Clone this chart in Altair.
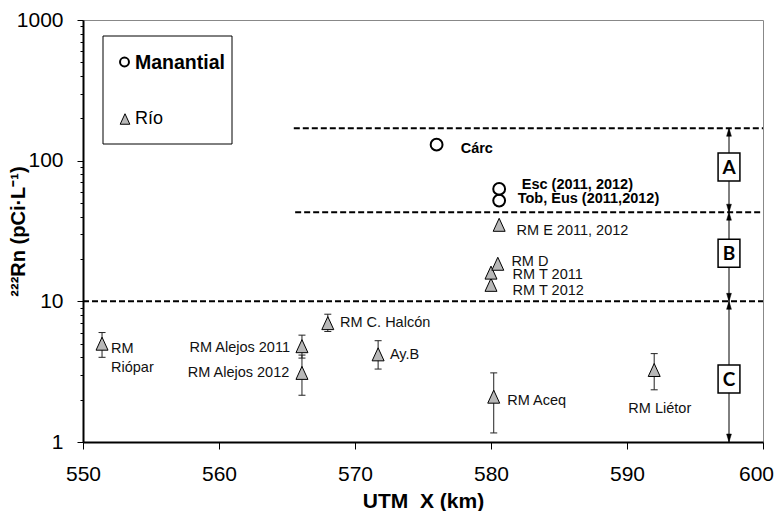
import altair as alt
import pandas as pd

# ---------------- data ----------------
# River (Río) samples: UTM X (km) and 222Rn (pCi/L)
rio_x = [551.4, 566.1, 566.1, 568.0, 571.7, 580.2, 592.0, 580.0, 580.0, 580.5, 580.6]
rio_y = [5.0, 4.8, 3.1, 7.0, 4.2, 2.1, 3.25, 13.1, 16.0, 18.5, 35.0]

# error bars (only the lower-concentration river points have them)
err_x = [551.4, 566.1, 566.1, 568.0, 571.7, 580.2, 592.0]
err_lo = [4.0, 3.95, 2.15, 6.1, 3.3, 1.16, 2.35]
err_hi = [6.0, 5.75, 4.15, 8.1, 5.25, 3.1, 4.25]

# Spring (Manantial) samples
man_x = [576.0, 580.6, 580.6]
man_y = [130.0, 63.0, 52.0]

# point labels (anchor in data units)
lab_reg_left = ["RM", "Riópar", "RM C. Halcón", "Ay.B", "RM Aceq", "RM Liétor",
                "RM T 2012", "RM T 2011", "RM D", "RM E 2011, 2012"]
lab_reg_left_x = [552.06, 552.06, 568.9, 572.57, 581.2, 590.1, 581.59, 581.59, 581.5, 581.88]
lab_reg_left_y = [4.56, 3.35, 7.06, 4.16, 1.97, 1.71, 11.9, 15.4, 18.9, 31.8]

lab_reg_right = ["RM Alejos 2011", "RM Alejos 2012"]
lab_reg_right_x = [565.22, 565.17]
lab_reg_right_y = [4.64, 3.11]

lab_bold = ["Cárc", "Esc (2011, 2012)", "Tob, Eus (2011,2012)"]
lab_bold_x = [577.77, 582.26, 581.96]
lab_bold_y = [121.0, 67.5, 53.4]

# zone limits and labels
zone_y = [170.0, 43.0, 10.0]
zone_x0 = [565.5, 565.6, 550.0]
zone_x1 = [600.0, 600.0, 600.0]
zone_letters = ["A", "B", "C"]
zone_letter_y = [90.0, 22.0, 2.81]
arrow_x = 597.5
arrow_up_tips = [170.0, 43.0, 10.0]
arrow_down_tips = [43.0, 10.0, 1.0]

x_ticks = [550, 560, 570, 580, 590, 600]
y_ticks = [1, 2, 3, 4, 5, 6, 7, 8, 9, 10, 20, 30, 40, 50, 60, 70, 80, 90,
           100, 200, 300, 400, 500, 600, 700, 800, 900, 1000]

# ---------------- scales / axes ----------------
FONT = "Liberation Sans"
xs = alt.Scale(domain=[550, 600], nice=False, zero=False)
ys = alt.Scale(type="log", domain=[1, 1000], nice=False)

xaxis = alt.Axis(
    values=x_ticks, format="d", title="UTM\u00a0\u00a0X (km)", grid=False,
    domainColor="black", domainWidth=2, tickColor="black", tickWidth=1, tickSize=7,
    labelFont=FONT, labelFontSize=21, labelColor="black", labelPadding=14,
    labelFlush=False, labelOverlap=False,
    labelOffset={"condition": {"test": "datum.value == 600", "value": -7}, "value": 0},
    titleFont=FONT, titleFontSize=21, titleFontWeight="bold", titleColor="black",
    titleY=59, titleBaseline="middle",
)
yaxis = alt.Axis(
    values=y_ticks, grid=False,
    labelExpr="indexof([1,10,100,1000], datum.value) >= 0 ? format(datum.value, 'd') : ''",
    domainColor="black", domainWidth=2, tickColor="black", tickWidth=1,
    tickSize={"condition": {"test": "indexof([1,10,100,1000], datum.value) >= 0", "value": 6}, "value": 3},
    labelFont=FONT, labelFontSize=21, labelColor="black", labelPadding=14,
    labelOverlap=False, labelFlush=False,
    title="²²²Rn (pCi·L⁻¹)", titleFont=FONT, titleFontSize=20, titleFontWeight="bold",
    titleColor="black", titleX=-65, titleY=211, titleBaseline="middle", titleAngle=-90,
)


def X(f="x"):
    return alt.X(f"{f}:Q", scale=xs, axis=xaxis)


def Y(f="y"):
    return alt.Y(f"{f}:Q", scale=ys, axis=yaxis)


# ---------------- tables ----------------
rio = pd.DataFrame({"x": rio_x, "y": rio_y})
err = pd.DataFrame({"x": err_x, "lo": err_lo, "hi": err_hi})
man = pd.DataFrame({"x": man_x, "y": man_y})
lreg = pd.DataFrame({"x": lab_reg_left_x, "y": lab_reg_left_y, "t": lab_reg_left})
lrr = pd.DataFrame({"x": lab_reg_right_x, "y": lab_reg_right_y, "t": lab_reg_right})
lb = pd.DataFrame({"x": lab_bold_x, "y": lab_bold_y, "t": lab_bold})
zones = pd.DataFrame({"x": zone_x0, "x2": zone_x1, "y": zone_y})
zl = pd.DataFrame({"x": [arrow_x] * 3, "y": zone_letter_y, "t": zone_letters})
arr_line = pd.DataFrame({"x": [arrow_x], "lo": [min(arrow_down_tips)], "hi": [max(arrow_up_tips)]})
arr_up = pd.DataFrame({"x": [arrow_x] * 3, "y": arrow_up_tips})
arr_dn = pd.DataFrame({"x": [arrow_x] * 3, "y": arrow_down_tips})
one = pd.DataFrame({"a": [0]})

TRI = "M0,-1L-0.92,1L0.92,1Z"
UP_HEAD = "M0,0L-0.3,1L0.3,1Z"
DN_HEAD = "M0,0L-0.3,-1L0.3,-1Z"
BOX = "M-0.78,-1L0.78,-1L0.78,1L-0.78,1Z"

dashed = alt.Chart(zones).mark_rule(color="black", strokeWidth=2, strokeDash=[6, 3]).encode(
    x=X(), x2="x2:Q", y=Y())
vline = alt.Chart(arr_line).mark_rule(color="black", strokeWidth=1).encode(
    x=X(), y=Y("lo"), y2="hi:Q")
heads_up = alt.Chart(arr_up).mark_point(shape=UP_HEAD, size=256, filled=True, fill="black",
                                        stroke="black", strokeWidth=0.5, opacity=1).encode(x=X(), y=Y())
heads_dn = alt.Chart(arr_dn).mark_point(shape=DN_HEAD, size=256, filled=True, fill="black",
                                        stroke="black", strokeWidth=0.5, opacity=1).encode(x=X(), y=Y())
boxes = alt.Chart(zl).mark_point(shape=BOX, size=784, filled=True, fill="white", stroke="black",
                                 strokeWidth=1.5, opacity=1).encode(x=X(), y=Y())
letters = alt.Chart(zl).mark_text(font="Lato", fontSize=19, fontWeight="bold", color="black",
                                  baseline="middle", align="center", dy=1).encode(x=X(), y=Y(), text="t:N")

ebar = alt.Chart(err).mark_rule(color="#222", strokeWidth=1).encode(x=X(), y=Y("lo"), y2="hi:Q")
cap_lo = alt.Chart(err).mark_tick(orient="horizontal", size=7, thickness=1, color="#222", opacity=1).encode(
    x=X(), y=Y("lo"))
cap_hi = alt.Chart(err).mark_tick(orient="horizontal", size=7, thickness=1, color="#222", opacity=1).encode(
    x=X(), y=Y("hi"))

tri = alt.Chart(rio).mark_point(shape=TRI, size=169, filled=True, fill="#b8b8b8", stroke="black",
                                strokeWidth=1, opacity=1).encode(x=X(), y=Y())
circ = alt.Chart(man).mark_point(shape="circle", size=140, filled=False, stroke="black",
                                 strokeWidth=2, opacity=1).encode(x=X(), y=Y())

t_left = alt.Chart(lreg).mark_text(font=FONT, fontSize=14.5, color="#111", align="left",
                                   baseline="middle").encode(x=X(), y=Y(), text="t:N")
t_right = alt.Chart(lrr).mark_text(font=FONT, fontSize=14.5, color="#111", align="right",
                                   baseline="middle").encode(x=X(), y=Y(), text="t:N")
t_bold = alt.Chart(lb).mark_text(font=FONT, fontSize=14.5, fontWeight="bold", color="black",
                                 align="left", baseline="middle").encode(x=X(), y=Y(), text="t:N")

# legend (drawn by hand)
leg_box = alt.Chart(one).mark_rect(fill="white", stroke="black", strokeWidth=1).encode(
    x=alt.value(20), x2=alt.value(149), y=alt.value(16), y2=alt.value(124))
leg_c = alt.Chart(one).mark_point(shape="circle", size=80, filled=False, stroke="black",
                                  strokeWidth=2, opacity=1).encode(x=alt.value(41.5), y=alt.value(42))
leg_t = alt.Chart(one).mark_point(shape=TRI, size=110, filled=True, fill="#b8b8b8", stroke="black",
                                  strokeWidth=1, opacity=1).encode(x=alt.value(42), y=alt.value(99))
leg_txt1 = alt.Chart(one).mark_text(text="Manantial", font=FONT, fontSize=19.5, fontWeight="bold",
                                    color="black", align="left", baseline="middle").encode(
    x=alt.value(52), y=alt.value(43))
leg_txt2 = alt.Chart(one).mark_text(text="Río", font=FONT, fontSize=18, color="black",
                                    align="left", baseline="middle").encode(
    x=alt.value(52), y=alt.value(99))

chart = alt.layer(
    dashed, vline, heads_up, heads_dn, boxes, letters,
    ebar, cap_lo, cap_hi, tri, circ, t_left, t_right, t_bold,
    leg_box, leg_c, leg_t, leg_txt1, leg_txt2,
).properties(
    width=680, height=422,
    autosize=alt.AutoSizeParams(type="none"),
    padding={"left": 75, "top": 12, "right": 11, "bottom": 69},
    background="white",
).configure_view(stroke="#888", strokeWidth=1)

chart.save("out.html", embed_options={"renderer": "svg", "actions": False})
